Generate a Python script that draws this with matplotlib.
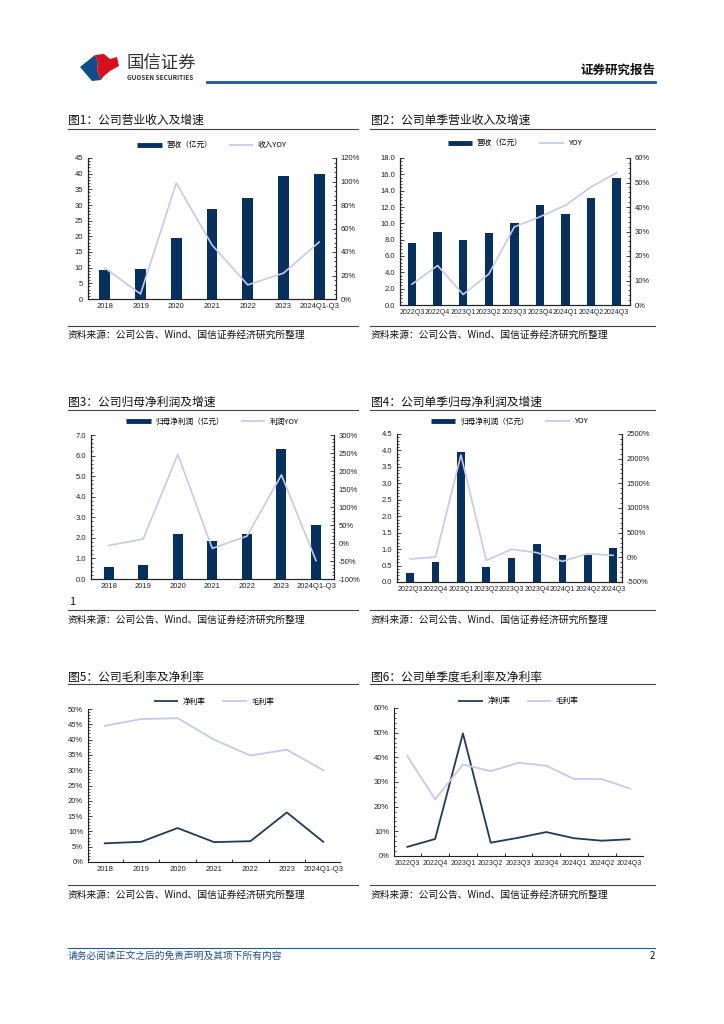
import matplotlib
matplotlib.use('Agg')
import matplotlib.pyplot as plt
from matplotlib.lines import Line2D
from matplotlib.patches import Polygon
from matplotlib.ticker import FuncFormatter, MultipleLocator, AutoMinorLocator

plt.rcParams['font.family'] = ['Noto Sans CJK SC', 'DejaVu Sans']
plt.rcParams['axes.unicode_minus'] = False

# 数据
years = ['2018', '2019', '2020', '2021', '2022', '2023', '2024Q1-Q3']
quarters = ['2022Q3', '2022Q4', '2023Q1', '2023Q2', '2023Q3', '2023Q4', '2024Q1', '2024Q2', '2024Q3']

revenue = [9.4, 9.7, 19.6, 28.8, 32.3, 39.3, 40.0]
revenue_yoy = [26.4, 4.3, 98.7, 46.0, 12.0, 22.0, 48.5]

q_revenue = [7.6, 8.9, 7.9, 8.8, 10.1, 12.2, 11.2, 13.1, 15.5]
q_revenue_yoy = [8.5, 16.1, 4.3, 12.6, 31.9, 36.0, 40.7, 48.2, 54.0]

profit = [0.57, 0.68, 2.17, 1.85, 2.19, 6.32, 2.63]
profit_yoy = [-7, 11, 246, -15, 19, 189, -49]

q_profit = [0.28, 0.61, 3.96, 0.47, 0.74, 1.17, 0.81, 0.81, 1.04]
q_profit_yoy = [-34, 7, 2074, -61, 162, 95, -81, 74, 40]

net_margin = [6.1, 6.6, 11.1, 6.5, 6.8, 16.2, 6.6]
gross_margin = [44.5, 46.7, 47.0, 40.0, 34.8, 36.7, 30.0]

q_net_margin = [3.7, 6.9, 49.7, 5.4, 7.4, 9.7, 7.2, 6.2, 6.8]
q_gross_margin = [40.5, 23.0, 37.1, 34.4, 37.8, 36.6, 31.2, 31.2, 27.4]

W, H = 724, 1024
NAVY = '#06305F'
LAV = '#C8C8EE'
TXT = '#222222'
TICKFONT = ['Liberation Sans', 'DejaVu Sans']
SRC = '资料来源：公司公告、Wind、国信证券经济研究所整理'

fig = plt.figure(figsize=(W / 100, H / 100), dpi=100)


def fx(x):
    return x / W


def fy(y):
    return 1 - y / H


def hline(x0, x1, y, color='#444444', lw=0.8):
    fig.add_artist(Line2D([fx(x0), fx(x1)], [fy(y), fy(y)], transform=fig.transFigure,
                          color=color, lw=lw))


def text(x, y, s, **kw):
    fig.text(fx(x), fy(y), s, va='center', **kw)


def make_axes(l, t, r, b):
    return fig.add_axes([fx(l), fy(b), fx(r - l), (b - t) / H])


def style(ax, right=False, xsize=5.5):
    ax.spines['top'].set_visible(False)
    if not right:
        ax.spines['right'].set_visible(False)
    for sp in ax.spines.values():
        sp.set_linewidth(0.8)
        sp.set_color('#222222')
    ax.tick_params(axis='both', labelsize=5.5, colors=TXT, direction='in', length=3, width=0.6)
    ax.tick_params(axis='y', which='minor', direction='in', length=1.5, width=0.5)
    ax.yaxis.set_minor_locator(AutoMinorLocator(5))
    ax.tick_params(axis='x', length=0, pad=3, labelsize=xsize)
    for lab in ax.get_xticklabels() + ax.get_yticklabels():
        lab.set_family(TICKFONT)


def legend(ax, labels, kinds, y):
    handles = []
    for k in kinds:
        if k == 'bar':
            handles.append(Line2D([], [], color=NAVY, lw=3.5, solid_capstyle='butt'))
        elif k == 'navy':
            handles.append(Line2D([], [], color='#1F3A60', lw=1.3, solid_capstyle='butt'))
        else:
            handles.append(Line2D([], [], color=LAV, lw=1.3, solid_capstyle='butt'))
    ax.legend(handles, labels, loc='center', bbox_to_anchor=(0.5, y), ncol=2, frameon=False,
              fontsize=5.5, handlelength=3.2, columnspacing=2.2, handletextpad=0.6)


def pct(v, pos):
    return '%d%%' % v


def one(v, pos):
    return '%.1f' % v


# 页眉
blue_pts = [(80, 67), (95, 55), (98, 62), (97, 70), (101, 80), (92, 81)]
red_pts = [(95, 55), (104, 54), (110, 59), (117, 57), (119, 66), (110, 71), (104, 76), (101, 80),
           (97, 70), (98, 62)]
fig.add_artist(Polygon([(fx(a), fy(b)) for a, b in blue_pts], closed=True, transform=fig.transFigure,
                       facecolor='#0F4C8A', edgecolor='none'))
fig.add_artist(Polygon([(fx(a), fy(b)) for a, b in red_pts], closed=True, transform=fig.transFigure,
                       facecolor='#D7101F', edgecolor='none'))
text(126, 64, '国信证券', fontsize=12.5, color='#333333')
text(127, 77.5, 'GUOSEN SECURITIES', fontsize=4.6, color='#333333', fontweight='bold')
text(655, 70, '证券研究报告', fontsize=9, color='#111111', fontweight='bold', ha='right')
hline(207, 655, 82, color='#1F5A94', lw=2)

# 标题和来源
titles = [(68, 120, '图1：公司营业收入及增速'), (371, 120, '图2：公司单季营业收入及增速'),
          (68, 402, '图3：公司归母净利润及增速'), (371, 402, '图4：公司单季归母净利润及增速'),
          (68, 677, '图5：公司毛利率及净利率'), (371, 677, '图6：公司单季度毛利率及净利率')]
for x, y, s in titles:
    text(x, y, s, fontsize=8.5, color='#111111')
for y in [129, 410, 684]:
    hline(68, 358, y)
    hline(370, 655, y)
for y_line, y_txt in [(326, 335), (610, 620), (885, 895)]:
    hline(68, 358, y_line)
    hline(370, 655, y_line)
    text(68, y_txt, SRC, fontsize=7, color='#111111')
    text(371, y_txt, SRC, fontsize=7, color='#111111')
text(69, 602, '1', fontsize=8, color='#111111')

# 图1
ax = make_axes(88, 158, 336, 299)
ax2 = ax.twinx()
x = range(len(years))
ax.bar(x, revenue, width=0.3, color=NAVY)
ax2.plot(x, revenue_yoy, color=LAV, lw=1.2)
ax.set_xlim(-0.47, 6.47)
ax.set_ylim(0, 45)
ax.yaxis.set_major_locator(MultipleLocator(5))
ax2.set_ylim(0, 120)
ax2.yaxis.set_major_locator(MultipleLocator(20))
ax2.yaxis.set_major_formatter(FuncFormatter(pct))
ax.set_xticks(list(x))
ax.set_xticklabels(years)
style(ax, right=True)
style(ax2, right=True)
legend(ax, ['营收（亿元）', '收入YOY'], ['bar', 'lav'], 1.09)

# 图2
ax = make_axes(400, 158, 630, 305)
ax2 = ax.twinx()
x = range(len(quarters))
ax.bar(x, q_revenue, width=0.33, color=NAVY)
ax2.plot(x, q_revenue_yoy, color=LAV, lw=1.2)
ax.set_xlim(-0.47, 8.52)
ax.set_ylim(0, 18)
ax.yaxis.set_major_locator(MultipleLocator(2))
ax.yaxis.set_major_formatter(FuncFormatter(one))
ax2.set_ylim(0, 60)
ax2.yaxis.set_major_locator(MultipleLocator(10))
ax2.yaxis.set_major_formatter(FuncFormatter(pct))
ax.set_xticks(list(x))
ax.set_xticklabels(quarters)
style(ax, right=True, xsize=5.0)
style(ax2, right=True)
legend(ax, ['营收（亿元）', 'YOY'], ['bar', 'lav'], 1.1)

# 图3
ax = make_axes(91, 435, 334, 579)
ax2 = ax.twinx()
x = range(len(years))
ax.bar(x, profit, width=0.29, color=NAVY)
ax2.plot(x, profit_yoy, color=LAV, lw=1.2)
ax.set_xlim(-0.51, 6.52)
ax.set_ylim(0, 7)
ax.yaxis.set_major_locator(MultipleLocator(1))
ax.yaxis.set_major_formatter(FuncFormatter(one))
ax2.set_ylim(-100, 300)
ax2.yaxis.set_major_locator(MultipleLocator(50))
ax2.yaxis.set_major_formatter(FuncFormatter(pct))
ax.set_xticks(list(x))
ax.set_xticklabels(years)
style(ax, right=True)
style(ax2, right=True)
legend(ax, ['归母净利润（亿元）', '利润YOY'], ['bar', 'lav'], 1.09)

# 图4
ax = make_axes(397, 434, 622, 582)
ax2 = ax.twinx()
x = range(len(quarters))
ax.bar(x, q_profit, width=0.3, color=NAVY)
ax2.plot(x, q_profit_yoy, color=LAV, lw=1.2)
ax.set_xlim(-0.52, 8.35)
ax.set_ylim(0, 4.5)
ax.yaxis.set_major_locator(MultipleLocator(0.5))
ax.yaxis.set_major_formatter(FuncFormatter(one))
ax2.set_ylim(-500, 2500)
ax2.yaxis.set_major_locator(MultipleLocator(500))
ax2.yaxis.set_major_formatter(FuncFormatter(pct))
ax.set_xticks(list(x))
ax.set_xticklabels(quarters)
style(ax, right=True, xsize=5.0)
style(ax2, right=True)
legend(ax, ['归母净利润（亿元）', 'YOY'], ['bar', 'lav'], 1.085)

# 图5
ax = make_axes(88, 709, 340, 862)
x = range(len(years))
ax.plot(x, net_margin, color='#1F3A60', lw=1.3)
ax.plot(x, gross_margin, color=LAV, lw=1.3)
ax.set_xlim(-0.46, 6.46)
ax.set_ylim(0, 50)
ax.yaxis.set_major_locator(MultipleLocator(5))
ax.yaxis.set_major_formatter(FuncFormatter(pct))
ax.set_xticks(list(x))
ax.set_xticklabels(years)
style(ax)
ax.set_xticks([i + 0.5 for i in range(len(years) - 1)], minor=True)
ax.tick_params(axis='x', which='minor', direction='in', length=2.5, width=0.6)
legend(ax, ['净利率', '毛利率'], ['navy', 'lav'], 1.045)

# 图6
ax = make_axes(394, 708, 643, 856)
x = range(len(quarters))
ax.plot(x, q_net_margin, color='#1F3A60', lw=1.3)
ax.plot(x, q_gross_margin, color=LAV, lw=1.3)
ax.set_xlim(-0.48, 8.48)
ax.set_ylim(0, 60)
ax.yaxis.set_major_locator(MultipleLocator(10))
ax.yaxis.set_major_formatter(FuncFormatter(pct))
ax.set_xticks(list(x))
ax.set_xticklabels(quarters)
style(ax, xsize=5.0)
ax.set_xticks([i + 0.5 for i in range(len(quarters) - 1)], minor=True)
ax.tick_params(axis='x', which='minor', direction='in', length=2.5, width=0.6)
legend(ax, ['净利率', '毛利率'], ['navy', 'lav'], 1.045)

# 页脚
hline(68, 655, 948, color='#1F5A94', lw=0.8)
text(68, 956, '请务必阅读正文之后的免责声明及其项下所有内容', fontsize=7, color='#1F4E8C', style='italic')
text(655, 956, '2', fontsize=7, color='#111111', ha='right')

fig.savefig('out.png', dpi=100)
